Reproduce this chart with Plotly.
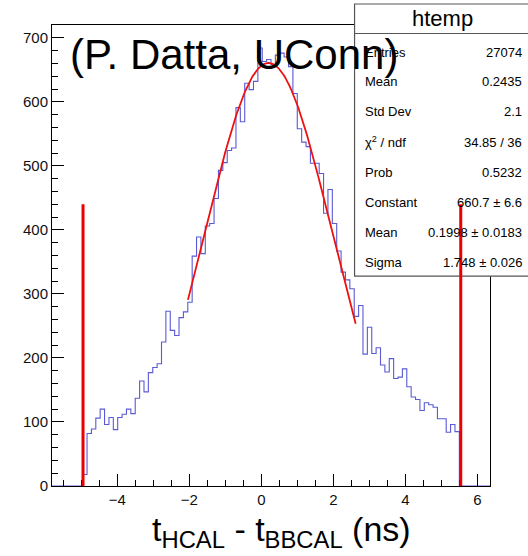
import plotly.graph_objects as go
import numpy as np

# ---------------- data ----------------
hist_xmin = -5.817
hist_xmax = 6.353
n_bins = 100
# bin contents (100 bins); zeros outside the filled region
counts = [0]*7 + [
    18, 82, 89, 106, 120, 96, 107, 88, 107, 112,
    120, 113, 137, 164, 147, 177, 185, 191, 225, 273,
    243, 235, 263, 272, 287, 359, 389, 363, 406, 410,
    449, 493, 505, 524, 528, 591, 569, 629, 619, 632,
    684, 663, 666, 658, 673, 676, 670, 655, 613, 558,
    537, 530, 504, 504, 488, 426, 463, 410, 367, 334,
    322, 308, 265, 282, 206, 248, 207, 216, 189, 178,
    199, 168, 170, 183, 155, 139, 135, 118, 130, 127,
    123, 105, 105, 84, 96, 85] + [0]*7

# gaussian fit parameters (from stats box) and fit range
fit_const = 660.7
fit_mean = 0.1998
fit_sigma = 1.748
fit_range = [-2.04, 2.62]

# cut lines
cut_lines_x = [-4.955, 5.54]
cut_line_top = 440

stats_labels = ["Entries", "Mean", "Std Dev", "χ<sup>2</sup> / ndf", "Prob",
                "Constant", "Mean", "Sigma"]
stats_values = ["27074", "0.2435", "2.1", "34.85 / 36", "0.5232",
                "660.7 ± 6.6", "0.1998 ± 0.0183", "1.748 ± 0.026"]

x_ticks = [-4, -2, 0, 2, 4, 6]
y_ticks = [0, 100, 200, 300, 400, 500, 600, 700]

# ---------------- figure ----------------
W, H = 528, 556
PX0, PX1, PY0, PY1 = 52.3, 490.5, 25.0, 485.7
def px(xp):
    return (xp - PX0) / (PX1 - PX0)
def py(yp):
    return (PY1 - yp) / (PY1 - PY0)

edges = np.linspace(hist_xmin, hist_xmax, n_bins + 1)
step_y = list(counts) + [counts[-1]]

fig = go.Figure()
fig.add_trace(go.Scatter(x=edges, y=step_y, mode="lines", line_shape="hv",
                         line=dict(color="rgb(90,90,215)", width=1.1),
                         hoverinfo="skip", showlegend=False))

fx = np.linspace(fit_range[0], fit_range[1], 200)
fy = fit_const * np.exp(-0.5 * ((fx - fit_mean) / fit_sigma) ** 2)
fig.add_trace(go.Scatter(x=fx, y=fy, mode="lines",
                         line=dict(color="#ee1111", width=1.8),
                         hoverinfo="skip", showlegend=False))

shapes = []
# stats box
bx0, bx1, by0, by1 = 355, 531, 4, 276
shapes.append(dict(type="rect", xref="paper", yref="paper",
                   x0=px(bx0), x1=px(bx1), y0=py(by1), y1=py(by0),
                   fillcolor="white", line=dict(color="#555", width=1.2), layer="above"))
shapes.append(dict(type="line", xref="paper", yref="paper",
                   x0=px(bx0), x1=px(bx1), y0=py(33.5), y1=py(33.5),
                   line=dict(color="#555", width=1.2), layer="above"))
for cx in cut_lines_x:
    shapes.append(dict(type="line", xref="x", yref="y", x0=cx, x1=cx,
                       y0=0, y1=cut_line_top,
                       line=dict(color="#ee0000", width=3), layer="above"))

annotations = []
annotations.append(dict(text="htemp", xref="paper", yref="paper",
                        x=px(443), y=py(19), xanchor="center", yanchor="middle",
                        showarrow=False, font=dict(family="Liberation Sans, Arial", size=22, color="black")))
row_y = [52, 81.5, 111.5, 142, 172, 202, 232, 262]
for lab, val, ry in zip(stats_labels, stats_values, row_y):
    annotations.append(dict(text=lab, xref="paper", yref="paper",
                            x=px(363), y=py(ry), xanchor="left", yanchor="middle",
                            showarrow=False, font=dict(family="Liberation Sans, Arial", size=13, color="black")))
    annotations.append(dict(text=val, xref="paper", yref="paper",
                            x=px(525), y=py(ry), xanchor="right", yanchor="middle",
                            showarrow=False, font=dict(family="Liberation Sans, Arial", size=13, color="black")))

annotations.append(dict(text="(P. Datta, UConn)", xref="paper", yref="paper",
                        x=px(68), y=py(54), xanchor="left", yanchor="middle",
                        showarrow=False, font=dict(family="Liberation Sans, Arial", size=42, color="black")))
annotations.append(dict(text="t<sub>HCAL</sub> - t<sub>BBCAL</sub> (ns)", xref="paper", yref="paper",
                        x=px(282), y=py(531), xanchor="center", yanchor="middle",
                        showarrow=False, font=dict(family="Liberation Sans, Arial", size=34, color="black")))

fig.update_layout(
    width=W, height=H,
    margin=dict(l=PX0, r=W - PX1, t=PY0, b=H - PY1, pad=0),
    paper_bgcolor="white", plot_bgcolor="white",
    shapes=shapes, annotations=annotations,
    font=dict(family="Liberation Sans, Arial", size=15, color="#111"),
)
fig.update_xaxes(range=[hist_xmin, hist_xmax], tickvals=x_ticks,
                 ticks="inside", ticklen=12, tickcolor="black", tickwidth=1,
                 showline=True, linecolor="black", linewidth=1, mirror=True,
                 showgrid=False, zeroline=False,
                 minor=dict(ticks="inside", ticklen=6, dtick=0.5, tick0=0, tickcolor="black", showgrid=False),
                 tickfont=dict(size=15))
fig.update_yaxes(range=[0, 720], tickvals=y_ticks,
                 ticks="inside", ticklen=12, tickcolor="black", tickwidth=1,
                 showline=True, linecolor="black", linewidth=1, mirror=True,
                 showgrid=False, zeroline=False,
                 minor=dict(ticks="inside", ticklen=6, dtick=20, tick0=0, tickcolor="black", showgrid=False),
                 tickfont=dict(size=15))

fig.write_html("out.html")
